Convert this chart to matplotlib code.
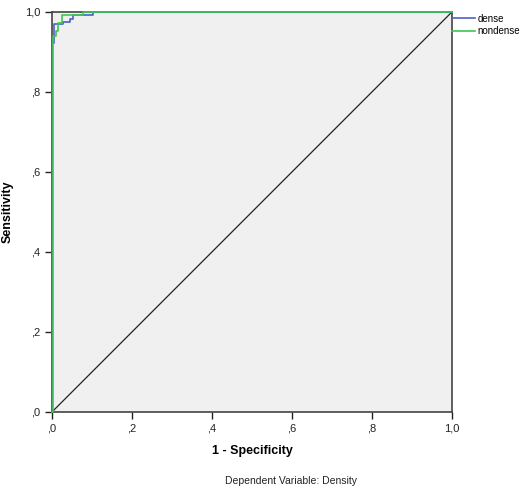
import matplotlib
matplotlib.use("Agg")
import matplotlib.pyplot as plt
import numpy as np

plt.rcParams["font.family"] = ["Liberation Sans", "DejaVu Sans"]

# ROC step curves (1 - specificity, sensitivity)
dense_fpr = [0.0, 0.0, 0.005, 0.005, 0.027, 0.027, 0.045, 0.045, 0.053, 0.053, 0.103, 0.103, 1.0]
dense_tpr = [0.0, 0.922, 0.922, 0.969, 0.969, 0.976, 0.976, 0.983, 0.983, 0.993, 0.993, 1.0, 1.0]

nondense_fpr = [0.0, 0.002, 0.002, 0.01, 0.01, 0.016, 0.016, 0.024, 0.024, 0.078, 0.078, 1.0]
nondense_tpr = [0.0, 0.0, 0.94, 0.94, 0.953, 0.953, 0.973, 0.973, 0.993, 0.993, 1.0, 1.0]

ticks = [0.0, 0.2, 0.4, 0.6, 0.8, 1.0]
tick_labels = [",0", ",2", ",4", ",6", ",8", "1,0"]

fig = plt.figure(figsize=(5.2, 4.91), dpi=100)
ax = fig.add_axes([0.1, 0.161, 0.769, 0.8146])
ax.set_facecolor("#f0f0f0")

ax.plot([0, 1], [0, 1], color="#222222", lw=0.9, zorder=2)
ax.plot(dense_fpr, dense_tpr, color="#4a62c4", lw=1.2, label="dense", zorder=3, clip_on=False)
ax.plot(nondense_fpr, nondense_tpr, color="#3ec653", lw=1.2, label="nondense", zorder=4, clip_on=False)

ax.set_xlim(0, 1)
ax.set_ylim(0, 1)
ax.set_xticks(ticks)
ax.set_xticklabels(tick_labels)
ax.set_yticks(ticks)
ax.set_yticklabels(tick_labels)
ax.tick_params(direction="out", length=5, width=1, labelsize=8, colors="#222222")
for s in ax.spines.values():
    s.set_color("#444444")
    s.set_linewidth(1.2)

ax.set_xlabel("1 - Specificity", fontsize=9, fontweight="bold", labelpad=8)
ax.set_ylabel("Sensitivity", fontsize=9, fontweight="bold")
ax.yaxis.set_label_coords(-0.095, 0.5)

ax.legend(loc="upper left", bbox_to_anchor=(1.0, 0.996), frameon=False, fontsize=7,
          handlelength=2.4, handletextpad=0.2, labelspacing=0.3, borderaxespad=0, borderpad=0)

fig.text(0.56, 0.015, "Dependent Variable: Density", fontsize=7.5, ha="center", color="#222222")

fig.savefig("out.png", dpi=100)
